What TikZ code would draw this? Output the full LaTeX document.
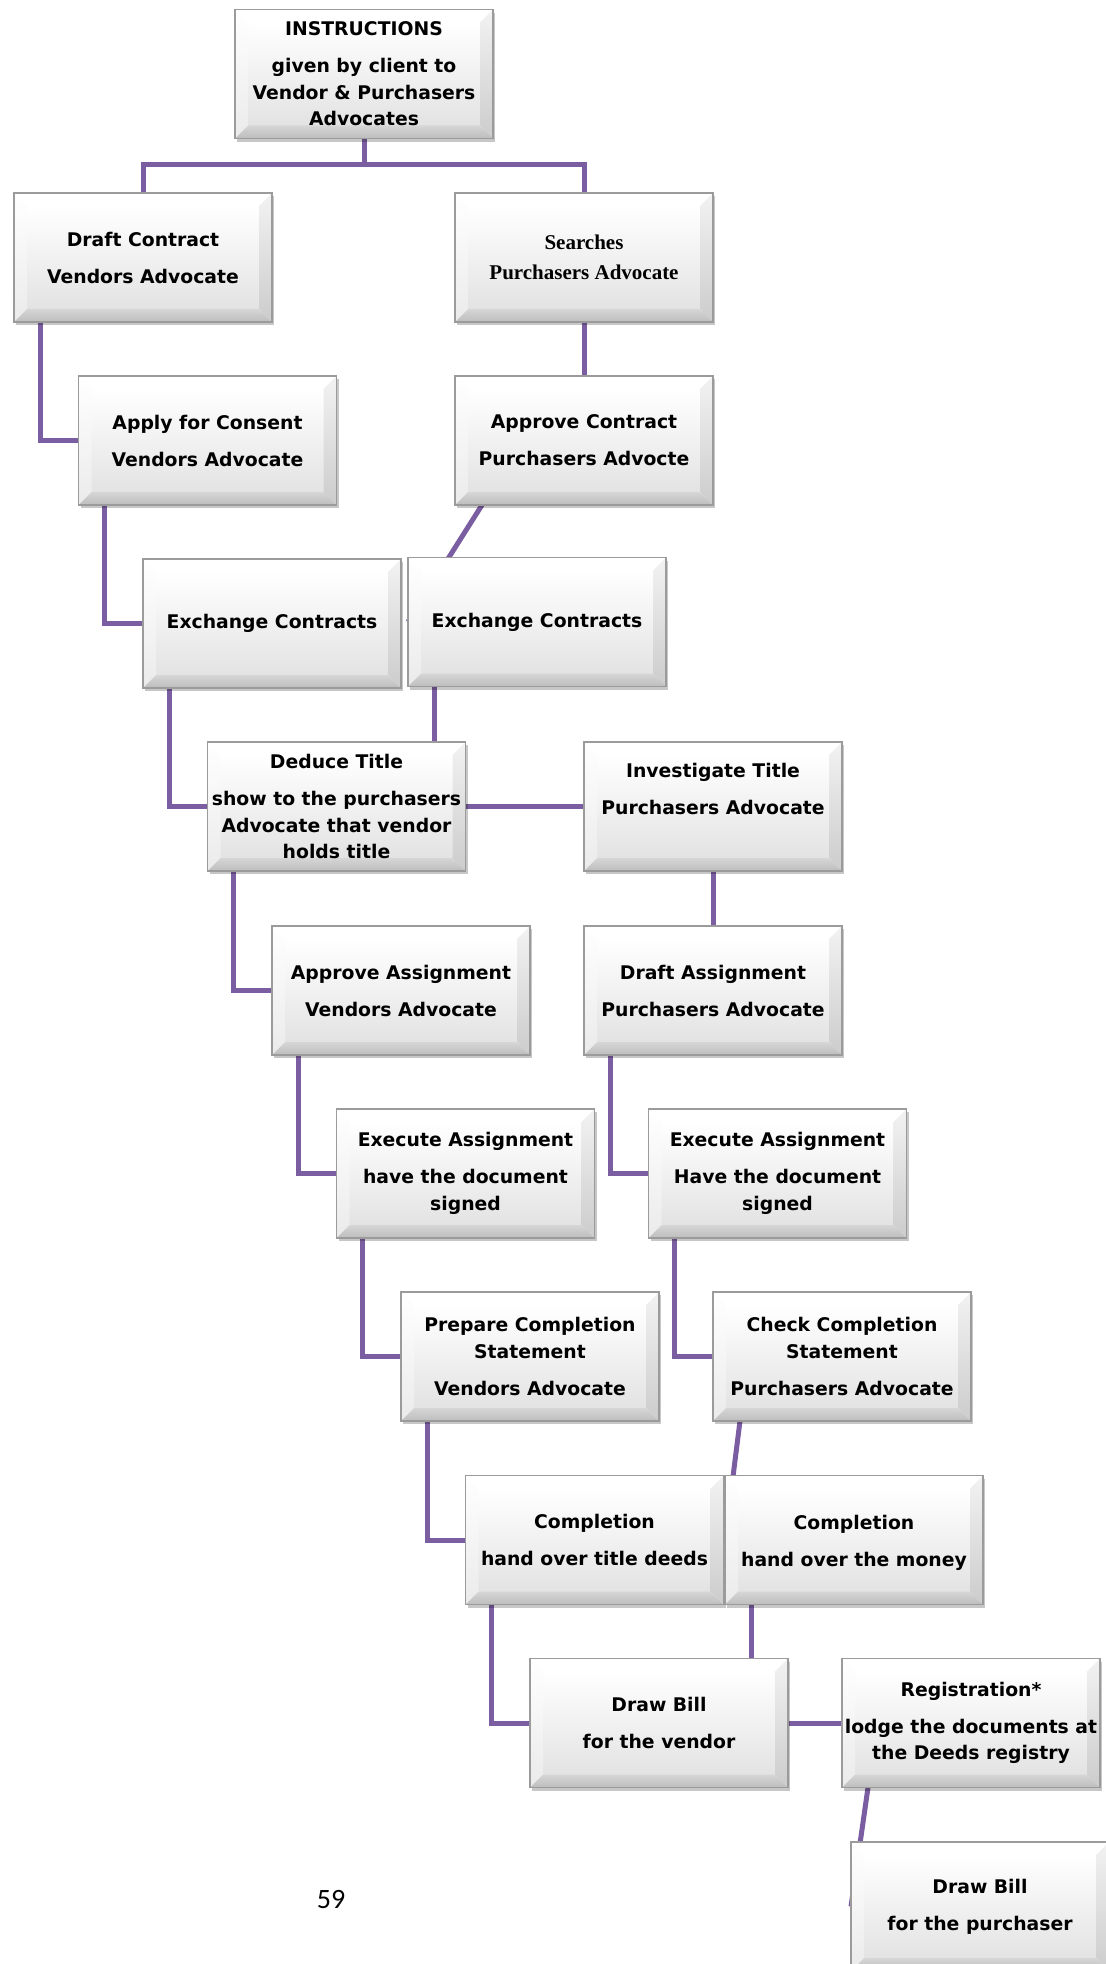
\documentclass[tikz,border=0pt]{standalone}
\usepackage{fontspec}
\setmainfont{DejaVu Sans}
\newfontfamily\serifbx{Liberation Serif}
\newfontfamily\pagenumfont{Carlito}
\usetikzlibrary{shadows,backgrounds}
\definecolor{purp}{RGB}{123,94,161}
\definecolor{bvborder}{RGB}{155,155,155}
\tikzset{
  bevbox/.style={
    minimum width=129pt, minimum height=64.5pt, inner sep=0pt, outer sep=0pt,
    draw=bvborder, line width=0.6pt, fill=white,
    drop shadow={shadow xshift=1.2pt, shadow yshift=-1.6pt, fill=black, opacity=0.22},
    path picture={
      \path (path picture bounding box.north west) coordinate (bvNW)
            (path picture bounding box.north east) coordinate (bvNE)
            (path picture bounding box.south west) coordinate (bvSW)
            (path picture bounding box.south east) coordinate (bvSE)
            ([shift={(6.5pt,-6.5pt)}]bvNW) coordinate (biNW)
            ([shift={(-6.5pt,-6.5pt)}]bvNE) coordinate (biNE)
            ([shift={(6.5pt,6.5pt)}]bvSW) coordinate (biSW)
            ([shift={(-6.5pt,6.5pt)}]bvSE) coordinate (biSE);
      \shade[top color=white, bottom color=black!11] (biNW) rectangle (biSE);
      \fill[white] (bvNW) -- (bvNE) -- (biNE) -- (biNW) -- cycle;
      \shade[top color=white, bottom color=black!8] (bvNW) -- (biNW) -- (biSW) -- (bvSW) -- cycle;
      \shade[top color=black!5, bottom color=black!20] (bvNE) -- (bvSE) -- (biSE) -- (biNE) -- cycle;
      \shade[top color=black!16, bottom color=black!26] (bvSW) -- (biSW) -- (biSE) -- (bvSE) -- cycle;
    }
  },
  txt/.style={align=center, inner sep=0pt,
    font=\fontsize{9.4pt}{13.2pt}\selectfont\bfseries},
  serif/.style={align=center, inner sep=0pt,
    font=\fontsize{10.5pt}{13pt}\selectfont\serifbx\bfseries},
  conn/.style={draw=purp, line width=2.5pt}
}
\newcommand\pp{\\[5.3pt]}
\newcommand\bx[5]{%
  \node[bevbox] (#1) at (#2,#3) {};
  \node[txt] (#1-t) at ([yshift=#5]#1.center) {#4};
}
\begin{document}
\begin{tikzpicture}[x=0.5pt,y=-0.5pt]
\useasboundingbox (0,0) rectangle (1105,1964);
% boxes
\bx{instr}{364}{74}{INSTRUCTIONS\pp given by client to\\Vendor \& Purchasers\\Advocates}{0pt}
\bx{draft}{143}{257.5}{Draft Contract\pp Vendors Advocate}{0pt}
\node[bevbox] (search) at (584,257.5) {};
\node[serif] (search-t) at (search.center) {Searches\\[2pt]Purchasers Advocate};
\bx{apply}{207.5}{440.5}{Apply for Consent\pp Vendors Advocate}{0pt}
\bx{apprc}{584}{440.5}{Approve Contract\pp Purchasers Advocte}{0pt}
\bx{exchL}{272}{623.5}{Exchange Contracts}{0pt}
\bx{exchR}{537}{622}{Exchange Contracts}{0pt}
\bx{deduce}{336.5}{806.5}{Deduce Title\pp show to the purchasers\\Advocate that vendor\\holds title}{0pt}
\bx{invest}{713}{806.5}{Investigate Title\pp Purchasers Advocate}{8.8pt}
\bx{apprA}{401}{990.5}{Approve Assignment\pp Vendors Advocate}{0pt}
\bx{draftA}{713}{990.5}{Draft Assignment\pp Purchasers Advocate}{0pt}
\bx{execL}{465.5}{1173.5}{Execute Assignment\pp have the document\\signed}{0pt}
\bx{execR}{777.5}{1173.5}{Execute Assignment\pp Have the document\\signed}{0pt}
\bx{prep}{530}{1356.5}{Prepare Completion\\Statement\pp Vendors Advocate}{0pt}
\bx{check}{842}{1356.5}{Check Completion\\Statement\pp Purchasers Advocate}{0pt}
\bx{compL}{594.5}{1540}{Completion\pp hand over title deeds}{0pt}
\bx{compR}{854}{1540}{Completion\pp hand over the money}{-1.2pt}
\bx{billV}{659}{1723}{Draw Bill\pp for the vendor}{0pt}
\bx{reg}{971}{1723}{Registration*\pp lodge the documents at\\the Deeds registry}{0pt}
\bx{billP}{980}{1906.5}{Draw Bill\pp for the purchaser}{0pt}
\node[font=\pagenumfont\fontsize{14pt}{16pt}\selectfont, inner sep=0pt] (pg) at (331,1899) {59};
% connectors
\begin{scope}[on background layer]
\coordinate (j0) at (364,164);
\draw[conn] (instr.south) -- (j0);
\draw[conn] (draft.north) |- (j0) -| (search.north);
% vendor chain
\draw[conn] ([xshift=13pt]draft.south west) |- (apply.west);
\draw[conn] ([xshift=13pt]apply.south west) |- (exchL.west);
\draw[conn] ([xshift=13pt]exchL.south west) |- (deduce.west);
\draw[conn] ([xshift=13pt]deduce.south west) |- (apprA.west);
\draw[conn] ([xshift=13pt]apprA.south west) |- (execL.west);
\draw[conn] ([xshift=13pt]execL.south west) |- (prep.west);
\draw[conn] ([xshift=13pt]prep.south west) |- (compL.west);
\draw[conn] ([xshift=13pt]compL.south west) |- (billV.west);
% purchaser chain
\draw[conn] (search.south) -- (apprc.north);
\draw[conn] ([xshift=13.5pt]apprc.south west) -- (exchR.west);
\draw[conn] ([xshift=13pt]exchR.south west) |- (invest.west);
\draw[conn] (invest.south) -- (draftA.north);
\draw[conn] ([xshift=13pt]draftA.south west) |- (execR.west);
\draw[conn] ([xshift=13pt]execR.south west) |- (check.west);
\draw[conn] ([xshift=13.5pt]check.south west) -- (compR.west);
\draw[conn] ([xshift=13pt]compR.south west) |- (reg.west);
\draw[conn] ([xshift=13pt]reg.south west) -- (billP.west);
\end{scope}
\end{tikzpicture}
\end{document}
